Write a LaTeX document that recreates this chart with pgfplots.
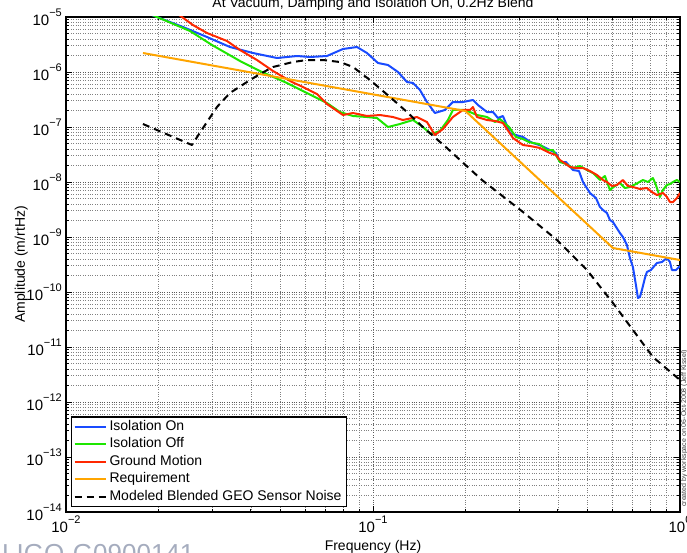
\documentclass[border=0pt]{standalone}
\usepackage{fontspec}
\setmainfont{Liberation Sans}
\usepackage{pgfplots}
\pgfplotsset{compat=1.18}
\newcommand\fs{\fontsize{14}{17}\selectfont}
\newcommand\tk[1]{10\raisebox{0.62em}{\fontsize{11}{12}\selectfont #1}}
\definecolor{cblue}{RGB}{25,75,255}
\definecolor{cgreen}{RGB}{30,230,0}
\definecolor{cred}{RGB}{255,40,0}
\definecolor{corange}{RGB}{255,165,0}
\definecolor{cligo}{RGB}{165,172,190}
\begin{document}
\begin{tikzpicture}
\begin{axis}[
  at={(0pt,0pt)}, anchor=south west,
  scale only axis, width=614pt, height=495pt,
  xmode=log, ymode=log,
  xmin=0.01, xmax=1, ymin=1e-14, ymax=1e-5,
  xtick={0.01,0.1,1},
  xticklabels={\tk{−2},\tk{−1},\tk{0}},
  ytick={1e-14,1e-13,1e-12,1e-11,1e-10,1e-9,1e-8,1e-7,1e-6,1e-5},
  yticklabels={\tk{−14},\tk{−13},\tk{−12},\tk{−11},\tk{−10},\tk{−9},\tk{−8},\tk{−7},\tk{−6},\tk{−5}},
  tick label style={font=\fontsize{15}{17}\selectfont},
  yticklabel style={inner xsep=2pt, xshift=-2pt},
  grid=both,
  major grid style={dotted, line width=0.6pt, black!65},
  minor grid style={dotted, line width=0.6pt, black!50},
  major tick length=6pt, minor tick length=3.5pt,
  tick style={black, line width=0.7pt},
  axis line style={line width=1.2pt},
  tick align=inside,
  legend cell align=left,
  legend style={at={(0.0081,0.0101)}, anchor=south west, draw=black, line width=1.2pt,
    font=\fs, row sep=0pt, inner xsep=2pt, inner ysep=1pt,
    nodes={inner xsep=3pt, inner ysep=2.25pt, text height=10pt, text depth=3pt}},
  legend image code/.code={\draw[#1] (0pt,0pt) -- (31pt,0pt);},
  every axis plot/.append style={line width=2pt, line join=round},
]
% Isolation On
\addplot[cblue] coordinates {
(0.01781,1.25e-5) (0.01979,1.0e-5) (0.02405,6.579e-6) (0.02879,4.329e-6) (0.03421,2.848e-6)
(0.04065,2.215e-6) (0.04867,1.797e-6) (0.05655,1.954e-6) (0.06234,1.874e-6) (0.07081,1.954e-6)
(0.07984,2.619e-6) (0.08867,2.848e-6) (0.09559,2.215e-6) (0.1038,1.458e-6) (0.1119,1.341e-6)
(0.1206,1.0e-6) (0.1290,6.579e-7) (0.1350,6.310e-7) (0.1422,4.707e-7) (0.1499,2.848e-7)
(0.1591,1.797e-7) (0.1715,2.038e-7) (0.1821,2.848e-7) (0.1963,2.848e-7) (0.2116,3.097e-7)
(0.2197,2.512e-7) (0.2351,1.874e-7) (0.2459,1.874e-7) (0.2553,1.458e-7) (0.2650,1.585e-7)
(0.2794,7.779e-8) (0.2923,7.153e-8) (0.3080,6.579e-8) (0.3221,5.566e-8) (0.3319,5.119e-8)
(0.3551,4.514e-8) (0.3771,3.818e-8) (0.3945,3.368e-8) (0.4064,2.310e-8) (0.4251,2.310e-8)
(0.4481,1.652e-8) (0.4687,1.585e-8) (0.4830,1.0e-8) (0.5090,6.310e-9) (0.5324,5.119e-9)
(0.5486,3.511e-9) (0.5611,3.097e-9) (0.5781,2.732e-9) (0.5913,2.038e-9) (0.6047,1.874e-9)
(0.6373,1.182e-9) (0.6518,1.0e-9) (0.6717,7.153e-10) (0.6869,4.152e-10) (0.7026,2.848e-10)
(0.7186,1.341e-10) (0.7295,7.779e-11) (0.7405,8.111e-11) (0.7516,1.087e-10) (0.7687,1.797e-10)
(0.7803,2.310e-10) (0.8040,2.512e-10) (0.8411,3.368e-10) (0.8733,3.511e-10) (0.9066,4.152e-10)
(0.9274,3.511e-10) (0.9413,2.512e-10) (0.9701,2.512e-10) (1.0,2.970e-10)
};
\addlegendentry{Isolation On}
% Isolation Off
\addplot[cgreen] coordinates {
(0.01781,1.29e-5) (0.01979,1.0e-5) (0.02534,5.566e-6) (0.02989,3.097e-6) (0.03688,1.585e-6)
(0.04349,1.0e-6) (0.05246,6.310e-7) (0.06095,4.152e-7) (0.07081,2.732e-7) (0.07805,1.874e-7)
(0.08606,1.585e-7) (0.09559,1.520e-7) (0.1030,1.458e-7) (0.1119,1.0e-7) (0.1224,1.134e-7)
(0.1350,1.341e-7) (0.1454,1.0e-7) (0.1544,7.459e-8) (0.1652,8.458e-8) (0.1754,1.341e-7)
(0.1821,2.038e-7) (0.1963,2.038e-7) (0.2069,1.874e-7) (0.2181,1.652e-7) (0.2351,1.520e-7)
(0.2497,1.233e-7) (0.2591,1.398e-7) (0.2773,1.0e-7) (0.2923,6.579e-8) (0.3080,6.051e-8)
(0.3221,5.337e-8) (0.3319,5.119e-8) (0.3472,4.909e-8) (0.3687,3.818e-8) (0.3857,3.818e-8)
(0.4064,2.310e-8) (0.4251,2.125e-8) (0.4481,1.797e-8) (0.4722,1.954e-8) (0.4977,1.652e-8)
(0.5205,1.458e-8) (0.5486,1.087e-8) (0.5695,1.286e-8) (0.5913,7.153e-9) (0.6138,8.458e-9)
(0.6373,9.590e-9) (0.6616,7.779e-9) (0.6869,8.111e-9) (0.7186,9.197e-9) (0.7573,1.087e-8)
(0.7862,1.0e-8) (0.8162,1.182e-8) (0.8348,8.820e-9) (0.8603,5.337e-9) (0.8798,7.153e-9)
(0.9066,8.820e-9) (0.9274,9.197e-9) (0.9485,1.0e-8) (0.9772,1.087e-8) (1.0,1.0e-8)
};
\addlegendentry{Isolation Off}
% Ground Motion
\addplot[cred] coordinates {
(0.01781,3.0e-5) (0.02387,1.0e-5) (0.02591,7.153e-6) (0.02879,5.119e-6) (0.03345,3.661e-6)
(0.03688,2.512e-6) (0.04189,1.652e-6) (0.04724,1.043e-6) (0.05446,6.579e-7) (0.05915,5.337e-7)
(0.0657,3.981e-7) (0.07081,2.619e-7) (0.07984,1.652e-7) (0.08606,1.797e-7) (0.09559,1.585e-7)
(0.1054,1.652e-7) (0.1161,1.520e-7) (0.1252,1.341e-7) (0.1391,1.520e-7) (0.1499,1.233e-7)
(0.1591,7.153e-8) (0.1690,9.197e-8) (0.1821,1.520e-7) (0.1963,2.038e-7) (0.2069,2.038e-7)
(0.2116,2.310e-7) (0.2181,1.520e-7) (0.2351,1.341e-7) (0.2497,1.286e-7) (0.2650,1.182e-7)
(0.2858,6.310e-8) (0.3080,4.707e-8) (0.3245,4.514e-8) (0.3498,4.152e-8) (0.3771,3.368e-8)
(0.3945,3.097e-8) (0.4064,2.512e-8) (0.4251,2.125e-8) (0.4381,1.874e-8) (0.4583,1.797e-8)
(0.4830,1.797e-8) (0.5090,1.585e-8) (0.5364,1.341e-8) (0.5611,1.087e-8) (0.5781,1.0e-8)
(0.6002,8.458e-9) (0.6231,8.820e-9) (0.6518,1.087e-8) (0.6767,8.458e-9) (0.7026,8.111e-9)
(0.7405,7.459e-9) (0.7803,7.779e-9) (0.8101,6.579e-9) (0.8411,5.801e-9) (0.8798,6.310e-9)
(0.9066,5.337e-9) (0.9274,4.329e-9) (0.9485,4.329e-9) (0.9772,5.119e-9) (1.0,6.310e-9)
};
\addlegendentry{Ground Motion}
% Requirement
\addplot[corange] coordinates {
(0.01781,2.215e-6) (0.2,1.954e-7) (0.6047,6.310e-10) (1.0,3.818e-10)
};
\addlegendentry{Requirement}
% Modeled Blended GEO Sensor Noise
\addplot[black, dash pattern=on 7pt off 5pt] coordinates {
(0.01781,1.134e-7) (0.02572,4.707e-8) (0.02794,9.590e-8) (0.03103,2.310e-7) (0.03421,4.152e-7)
(0.03886,6.579e-7) (0.04284,9.197e-7) (0.04724,1.233e-6) (0.05487,1.520e-6) (0.06095,1.652e-6)
(0.06871,1.652e-6) (0.07805,1.520e-6) (0.08606,1.233e-6) (0.09775,7.153e-7) (0.1136,3.511e-7)
(0.1290,1.874e-7) (0.1454,1.0e-7) (0.1741,4.152e-8) (0.2264,1.087e-8) (0.3080,2.848e-9)
(0.3974,8.820e-10) (0.4977,2.512e-10) (0.6047,6.310e-11) (0.7026,2.038e-11) (0.8162,6.579e-12)
(1.0,2.512e-12)
};
\addlegendentry{Modeled Blended GEO Sensor Noise}
\end{axis}
\node[anchor=base, font=\fs] at (307pt,504pt) {At Vacuum, Damping and Isolation On, 0.2Hz Blend};
\node[anchor=base, font=\fs] at (307pt,-39pt) {Frequency (Hz)};
\node[rotate=90, anchor=base, font=\fs] at (-41pt,247.5pt) {Amplitude (m/rtHz)};
\node[rotate=90, anchor=base west, inner sep=0pt, font=\fontsize{7}{8}\selectfont, text=black!75] at (620pt,5pt) {created by workspace on 06-Oct-2008 (Jeff Kissel)};
\node[anchor=base west, inner sep=0pt, font=\fontsize{26}{30}\selectfont, text=cligo] at (-64pt,-51pt) {LIGO-G0900141};
\pgfresetboundingbox
\path[use as bounding box] (-66pt,-41pt) rectangle (621pt,512pt);
\end{tikzpicture}
\end{document}
